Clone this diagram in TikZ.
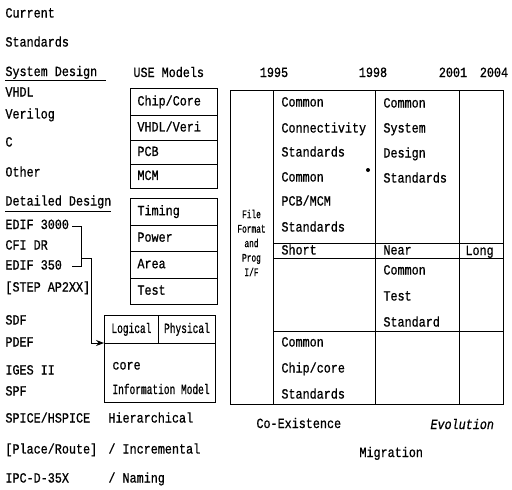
\documentclass[tikz,border=0pt]{standalone}
\usepackage{fontspec}
\usetikzlibrary{arrows.meta}
\newfontfamily\FmainF[FakeStretch=0.84,FakeBold=0.8]{Liberation Mono}
\newfontfamily\FnarF[FakeStretch=0.68,FakeBold=0.8]{Liberation Mono}
\newcommand\Fmain{\FmainF\fontsize{14pt}{16pt}\selectfont}
\newcommand\Fnar{\FnarF\fontsize{14pt}{16pt}\selectfont}
\newcommand\Fsmall{\FnarF\fontsize{11.5pt}{14.5pt}\selectfont}
\begin{document}
\begin{tikzpicture}[x=1pt,y=-1pt,line width=0.9pt,
  lbl/.style={anchor=base west, inner sep=0pt, font=\Fmain},
  yr/.style={anchor=base, inner sep=0pt, font=\Fmain},
  cell/.style={draw, anchor=north west, minimum width=87pt, text width=73pt,
    inner xsep=7pt, inner ysep=0pt, align=left, font=\Fmain,
    text height=9pt, text depth=2pt},
  ncell/.style={draw, anchor=north west, inner sep=0pt, align=center,
    font=\Fnar, text height=9pt, text depth=2pt}]
\useasboundingbox (0,0) rectangle (512,490);

% left column
\node[lbl] (cur) at (5,17.5) {Current};
\node[lbl] (std) at (5,46.5) {Standards};
\node[lbl] (sysd) at (5,76) {System Design};
\draw (5,80) -- (106,80);
\node[lbl] (vhdl) at (5,96.5) {VHDL};
\node[lbl] (veri) at (5,118.5) {Verilog};
\node[lbl] (c) at (5,146.5) {C};
\node[lbl] (oth) at (5,176.5) {Other};
\node[lbl] (detd) at (5,205.5) {Detailed Design};
\draw (5,211) -- (111,211);
\node[lbl] (e3000) at (5,229) {EDIF 3000};
\node[lbl] (cfi) at (5,249.5) {CFI DR};
\node[lbl] (e350) at (5,269.5) {EDIF 350};
\node[lbl] (step) at (5,291.5) {[STEP AP2XX]};
\node[lbl] (sdf) at (5,324.5) {SDF};
\node[lbl] (pdef) at (5,346.5) {PDEF};
\node[lbl] (iges) at (5,374.5) {IGES II};
\node[lbl] (spf) at (5,395.5) {SPF};
\node[lbl] (spice) at (5,422.5) {SPICE/HSPICE};
\node[lbl] (pr) at (5,453.5) {[Place/Route]};
\node[lbl] (ipc) at (5,482.5) {IPC-D-35X};
\node[lbl] (hier) at (108,422.5) {Hierarchical};
\node[lbl] (incr) at (108,453.5) {/ Incremental};
\node[lbl] (nam) at (108,482.5) {/ Naming};

% bracket and arrow
\coordinate (b1) at (72,226);
\coordinate (b2) at (81,226);
\coordinate (b3) at (81,266);
\coordinate (b4) at (72,266);
\coordinate (b5) at (81,258);
\coordinate (b6) at (91,258);
\coordinate (b7) at (91,343);
\draw (b1) -- (b2) -- (b3) -- (b4);

% USE models
\node[lbl] (use) at (133,77) {USE Models};
\node[cell, minimum height=27pt] (chip) at (130,88) {Chip/Core};
\node[cell, minimum height=25pt] (vv) at (130,115) {VHDL/Veri};
\node[cell, minimum height=24pt] (pcb) at (130,140) {PCB};
\node[cell, minimum height=24pt] (mcm) at (130,164) {MCM};
\node[cell, minimum height=26.5pt] (tim) at (130,198) {Timing};
\node[cell, minimum height=26.5pt] (pow) at (130,224.5) {Power};
\node[cell, minimum height=26.5pt] (area) at (130,251) {Area};
\node[cell, minimum height=26.5pt] (test) at (130,277.5) {Test};

% information model
\node[ncell, minimum width=54pt, minimum height=28pt] (logi) at (104,315) {Logical};
\node[ncell, minimum width=57pt, minimum height=28pt] (phys) at (158,315) {Physical};
\node[draw, anchor=north west, minimum width=111pt, minimum height=59pt, inner sep=0pt] (info) at (104,343) {};
\node[lbl] (core) at (112,369.5) {core};
\node[lbl, font=\Fnar] (infm) at (112,394) {Information Model};
\draw (b5) -- (b6) -- (b7);
\draw[-{Stealth[length=8pt,width=6pt]}] (b7) -- (info.north west);

% years
\node[yr] (y95) at (274,77) {1995};
\node[yr] (y98) at (373,77) {1998};
\node[yr] (y01) at (453,77) {2001};
\node[yr] (y04) at (494,77) {2004};

% main table
\draw (230,90) rectangle (503,404);
\draw (273,90) -- (273,404);
\draw (375,90) -- (375,404);
\draw (459,90) -- (459,404);
\draw (273,243) -- (503,243);
\draw (273,258) -- (503,258);
\draw (273,331) -- (503,331);
\node[font=\Fsmall, align=center, inner sep=0pt] (ff) at (251.5,243) {File\\Format\\and\\Prog\\I/F};

\node[lbl] (t1) at (281,106.5) {Common};
\node[lbl] (t2) at (281,132.5) {Connectivity};
\node[lbl] (t3) at (281,156.5) {Standards};
\node[lbl] (t4) at (281,181.5) {Common};
\node[lbl] (t5) at (281,205.5) {PCB/MCM};
\node[lbl] (t6) at (281,231.5) {Standards};
\fill (368,170) circle (2pt);
\node[lbl] (s1) at (383,107.5) {Common};
\node[lbl] (s2) at (383,132.5) {System};
\node[lbl] (s3) at (383,157.5) {Design};
\node[lbl] (s4) at (383,182.5) {Standards};
\node[lbl] (short) at (281,254.5) {Short};
\node[lbl] (near) at (383,254.5) {Near};
\node[lbl] (long) at (465,255) {Long};
\node[lbl] (c1) at (383,274.5) {Common};
\node[lbl] (c2) at (383,300.5) {Test};
\node[lbl] (c3) at (383,326.5) {Standard};
\node[lbl] (d1) at (281,346.5) {Common};
\node[lbl] (d2) at (281,372.5) {Chip/core};
\node[lbl] (d3) at (281,398.5) {Standards};

% bottom labels
\node[lbl] (coex) at (256,428) {Co-Existence};
\node[lbl, font=\Fmain\itshape] (evo) at (430,429) {Evolution};
\node[lbl] (mig) at (359,457) {Migration};
\end{tikzpicture}
\end{document}
